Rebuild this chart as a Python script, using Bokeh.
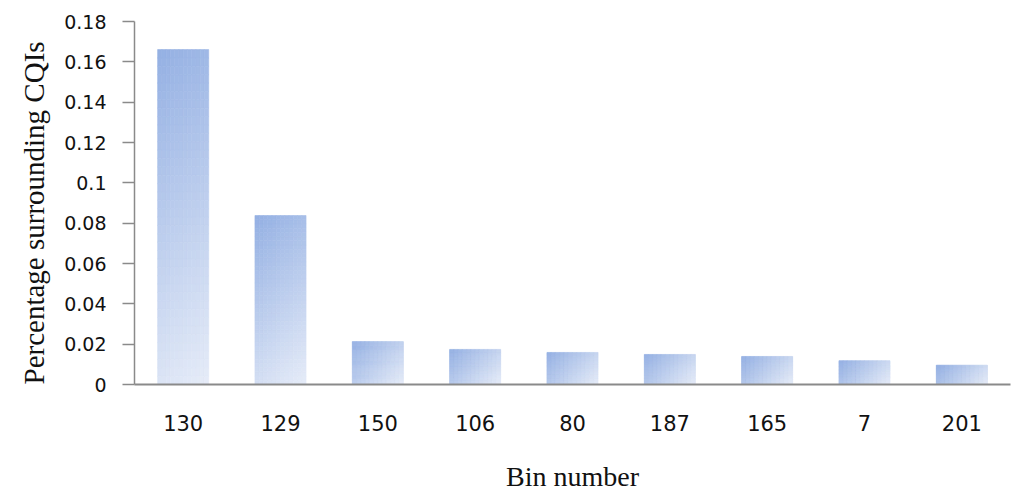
from bokeh.plotting import figure
from bokeh.models import Range1d, FixedTicker, CustomJSTickFormatter, ColumnDataSource, Title
from bokeh.embed import file_html
from bokeh.resources import INLINE

bins = ["130", "129", "150", "106", "80", "187", "165", "7", "201"]
values = [0.1661, 0.0838, 0.0213, 0.0174, 0.0159, 0.0149, 0.0139, 0.0118, 0.0096]
y_ticks = [0, 0.02, 0.04, 0.06, 0.08, 0.10, 0.12, 0.14, 0.16, 0.18]
y_title = "Percentage surrounding CQIs"
x_title = "Bin number"

dark = (148, 176, 227)
light = (230, 236, 248)
bar_w = 0.525
nx, ny = 12, 40
frame_h = 363.0
y_max = 0.18
bar_px = 51.0

L, R, B, T, C = [], [], [], [], []
for i, v in enumerate(values):
    x0 = i - bar_w / 2
    h_px = v / y_max * frame_h
    for a in range(nx):
        for b in range(ny):
            dx = (a + 0.5) / nx * bar_px
            dy = (1 - (b + 0.5) / ny) * h_px
            t = (dx + dy) / (bar_px + h_px)
            col = tuple(int(round(dark[k] + (light[k] - dark[k]) * t)) for k in range(3))
            L.append(x0 + a * bar_w / nx)
            R.append(x0 + (a + 1) * bar_w / nx)
            B.append(v * b / ny)
            T.append(v * (b + 1) / ny)
            C.append("#%02x%02x%02x" % col)

src = ColumnDataSource(dict(left=L, right=R, bottom=B, top=T, color=C))

p = figure(width=1016, height=494, output_backend="svg", toolbar_location=None,
           x_range=Range1d(-0.5, len(bins) - 0.5), y_range=Range1d(0, y_max),
           min_border_left=134, min_border_right=6, min_border_top=21, min_border_bottom=110)
p.quad(left="left", right="right", bottom="bottom", top="top", fill_color="color",
       line_color="color", line_width=0.6, source=src)

p.xgrid.visible = False
p.ygrid.visible = False
p.outline_line_color = None

ax = p.xaxis[0]
ax.ticker = FixedTicker(ticks=list(range(len(bins))))
ax.major_label_overrides = {i: b for i, b in enumerate(bins)}
ax.major_tick_out = 0
ax.major_tick_in = 0
ax.minor_tick_out = 0
ax.axis_line_color = "#8a8a8a"
ax.axis_line_width = 2
ax.major_label_text_font = "DejaVu Sans"
ax.major_label_text_font_size = "21px"
ax.major_label_text_color = "#111111"
ax.major_label_standoff = 30
ax.axis_label = x_title
ax.axis_label_text_font = "Liberation Serif"
ax.axis_label_text_font_size = "28px"
ax.axis_label_text_font_style = "normal"
ax.axis_label_text_color = "#111111"
ax.axis_label_standoff = 27

ay = p.yaxis[0]
ay.ticker = FixedTicker(ticks=y_ticks)
ay.formatter = CustomJSTickFormatter(code="var s = tick.toFixed(2); s = s.replace(/0+$/, '').replace(/\\.$/, ''); return s;")
ay.major_tick_out = 12
ay.major_tick_in = 0
ay.minor_tick_out = 0
ay.minor_tick_in = 0
ay.major_tick_line_color = "#8a8a8a"
ay.major_tick_line_width = 1.5
ay.axis_line_color = "#8a8a8a"
ay.axis_line_width = 1.5
ay.major_label_text_font = "DejaVu Sans"
ay.major_label_text_font_size = "19px"
ay.major_label_text_color = "#111111"
ay.major_label_standoff = 16

yt = Title(text=y_title, align="left", vertical_align="top", text_font="Liberation Serif",
           text_font_size="29px", text_font_style="normal", text_color="#111111", standoff=20)
p.add_layout(yt, "left")

open("out.html", "w").write(file_html(p, INLINE))
